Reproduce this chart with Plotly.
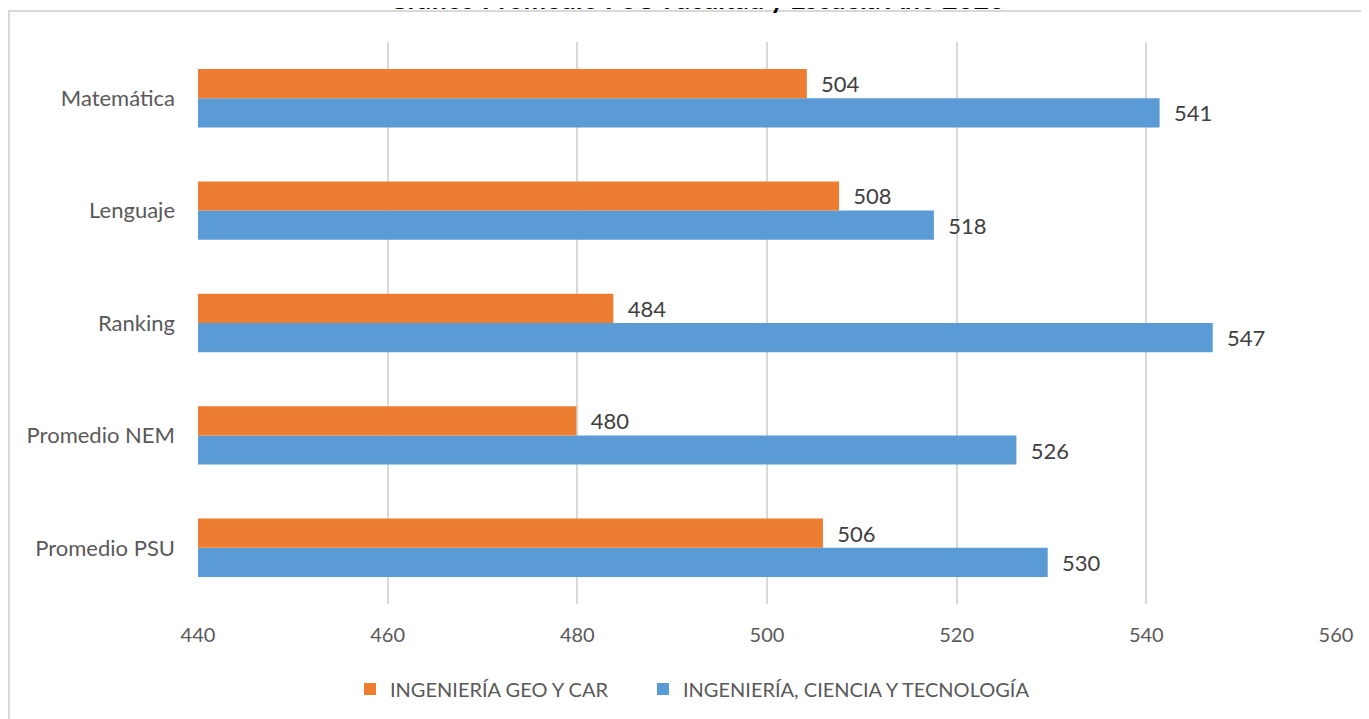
import plotly.graph_objects as go

categories = ["Matemática", "Lenguaje", "Ranking", "Promedio NEM", "Promedio PSU"]
geo_car = [504.2, 507.6, 483.8, 479.9, 505.9]
ciencia_tec = [541.4, 517.6, 547.0, 526.3, 529.6]
series_names = ["INGENIERÍA GEO Y CAR", "INGENIERÍA, CIENCIA Y TECNOLOGÍA"]
x_ticks = [440, 460, 480, 500, 520, 540, 560]
title_text = "Gráfico Promedio PSU Facultad y Escuela Año 2020"

FONT = "Lato"
OFF = 8  # page body margin
W, H = 1369, 719
# plot area in screen pixels
SL, SR, ST, SB = 198, 1336, 42, 604
L = SL - OFF
T = ST - OFF
R = W - (SR - OFF)
B = H - (SB - OFF)
pw, ph = SR - SL, SB - ST

def px_x(p):  # screen px -> paper
    return (p - SL) / pw

def px_y(p):
    return (SB - p) / ph

fig = go.Figure()
fig.add_trace(go.Bar(
    y=categories, x=ciencia_tec, name=series_names[1], orientation="h",
    marker=dict(color="#5B9BD5", line=dict(width=0)),
    texttemplate="  %{x:.0f}", textposition="outside", cliponaxis=False,
    textfont=dict(family=FONT, size=22, color="#404040"),
    legend="legend2",
))
fig.add_trace(go.Bar(
    y=categories, x=geo_car, name=series_names[0], orientation="h",
    marker=dict(color="#ED7D31", line=dict(width=0)),
    texttemplate="  %{x:.0f}", textposition="outside", cliponaxis=False,
    textfont=dict(family=FONT, size=22, color="#404040"),
    legend="legend",
))

legend_common = dict(orientation="h", xanchor="left", y=px_y(689), yanchor="middle",
                     font=dict(family=FONT, size=20, color="#595959"),
                     itemwidth=30, bgcolor="rgba(0,0,0,0)")

fig.update_layout(
    width=W, height=H,
    margin=dict(l=L, r=R, t=T, b=B, autoexpand=False),
    paper_bgcolor="white", plot_bgcolor="white",
    barmode="group", bargap=0.48, bargroupgap=0,
    font=dict(family=FONT, color="#595959"),
    showlegend=True,
    legend=dict(x=px_x(350), **legend_common),
    legend2=dict(x=px_x(643), **legend_common),
    xaxis=dict(range=[440, 560], tickvals=x_ticks, showgrid=True,
               gridcolor="#D9D9D9", gridwidth=2, zeroline=False,
               showline=False, ticks="", ticklabelstandoff=17,
               tickfont=dict(family=FONT, size=20, color="#595959")),
    yaxis=dict(categoryorder="array", categoryarray=categories[::-1],
               showgrid=False, zeroline=False, showline=False, ticks="",
               ticklabelstandoff=22,
               tickfont=dict(family=FONT, size=22, color="#595959")),
    shapes=[dict(type="rect", xref="paper", yref="paper",
                 x0=px_x(9), x1=px_x(W + 40), y0=px_y(H + 40), y1=px_y(11),
                 line=dict(color="#D9D9D9", width=2), fillcolor="rgba(0,0,0,0)",
                 layer="below")],
    annotations=[dict(text="<b>" + title_text + "</b>", xref="paper", yref="paper",
                      x=px_x(696), y=px_y(17), xanchor="center", yanchor="bottom",
                      showarrow=False,
                      font=dict(family=FONT, size=27, color="#000000"))],
)

fig.write_html("out.html")
